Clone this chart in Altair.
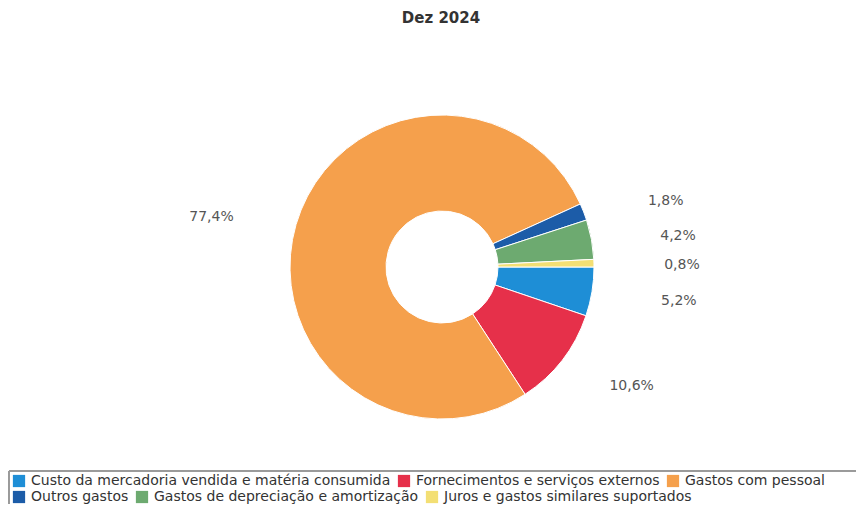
import altair as alt
import pandas as pd
import math

categories = [
    "Custo da mercadoria vendida e matéria consumida",
    "Fornecimentos e serviços externos",
    "Gastos com pessoal",
    "Outros gastos",
    "Gastos de depreciação e amortização",
    "Juros e gastos similares suportados",
]
values = [5.2, 10.6, 77.4, 1.8, 4.2, 0.8]
colors = ["#1E8ED6", "#E6304A", "#F5A04C", "#1C5CA8", "#6DAA70", "#F3DF74"]

df = pd.DataFrame({
    "cat": categories,
    "val": values,
    "idx": list(range(len(categories))),
    "lbl": [f"{v:.1f}".replace(".", ",") + "%" for v in values],
})

FONT = "DejaVu Sans"
CX, CY = 434, 239
LCY = CY + 3          # label ellipse centre
LRX, LRY = 240, 190  # label ellipse radii


def legend(vals, y):
    return alt.Legend(
        title=None,
        orient="none",
        legendX=4,
        legendY=y,
        direction="horizontal",
        values=vals,
        symbolType="square",
        symbolSize=150,
        symbolStrokeWidth=0,
        labelFont=FONT,
        labelFontSize=14,
        labelColor="#333",
        labelLimit=800,
        columnPadding=6,
        labelOffset=5,
        padding=0,
    )


theta = alt.Theta("val:Q", stack=True,
                  scale=alt.Scale(range=[math.pi / 2, math.pi / 2 + 2 * math.pi]))

base = alt.Chart(df).encode(
    theta=theta,
    order=alt.Order("idx:Q"),
    x=alt.value(CX),
    y=alt.value(CY),
)

arc_mark = dict(outerRadius=152, innerRadius=56, stroke="white", strokeWidth=1)

arcs1 = base.mark_arc(**arc_mark).encode(
    color=alt.Color("cat:N", scale=alt.Scale(domain=categories, range=colors),
                    legend=legend(categories[:3], 446))
)
arcs2 = base.mark_arc(**arc_mark).encode(
    color=alt.Color("cat:N", scale=alt.Scale(domain=categories, range=colors),
                    legend=legend(categories[3:], 462))
)

labels = (
    alt.Chart(df)
    .transform_joinaggregate(total="sum(val)")
    .transform_window(cum="sum(val)", sort=[alt.SortField("idx")])
    .transform_calculate(mid="(datum.cum - datum.val / 2) / datum.total * 2 * PI")
    .transform_calculate(
        lx=f"{CX} + {LRX} * cos(datum.mid)",
        ly=f"{LCY} + {LRY} * sin(datum.mid)",
    )
    .mark_text(font=FONT, fontSize=14, color="#555")
    .encode(
        x=alt.X("lx:Q", scale=None, axis=None),
        y=alt.Y("ly:Q", scale=None, axis=None),
        text="lbl:N",
    )
)

box = alt.Chart(df).mark_rect(fill=None, stroke="#999", strokeWidth=1).encode(
    x=alt.value(1), x2=alt.value(900), y=alt.value(443), y2=alt.value(520)
)

chart = (
    alt.layer(box, arcs1, arcs2, labels)
    .resolve_scale(color="independent")
    .resolve_legend(color="independent")
    .properties(
        width=848,
        height=476,
        autosize=alt.AutoSizeParams(type="none"),
        padding={"left": 0, "top": 20, "right": 0, "bottom": 0},
        title=alt.Title("Dez 2024", font=FONT, fontSize=15, fontWeight="bold",
                        color="#333", anchor="middle", offset=2, dx=9),
    )
    .configure_view(stroke=None)
)

chart.save("out.html", embed_options={"renderer": "svg", "actions": False})
